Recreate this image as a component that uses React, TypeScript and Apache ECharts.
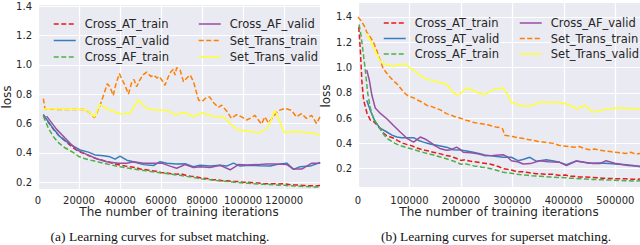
import React, { useEffect, useRef } from "react";
import * as echarts from "echarts";

// ---------- Data: (a) subset matching ----------
const subsetCrossATTrain: number[][] = [
  [2600, 0.66], [5000, 0.61], [7500, 0.56], [10000, 0.52], [12500, 0.49], [15000, 0.46], [17500, 0.43],
  [20000, 0.41], [22500, 0.395], [25000, 0.38], [27500, 0.365], [30000, 0.355], [32500, 0.345],
  [35000, 0.335], [37500, 0.325], [40000, 0.318], [42500, 0.31], [45000, 0.305], [47500, 0.3],
  [50000, 0.29], [52500, 0.285], [55000, 0.28], [57500, 0.275], [60000, 0.266], [62500, 0.264],
  [65000, 0.258], [67500, 0.255], [70000, 0.256], [72500, 0.245], [75000, 0.24], [77500, 0.236],
  [80000, 0.227], [82500, 0.226], [85000, 0.217], [87500, 0.216], [90000, 0.21], [92500, 0.21],
  [95000, 0.205], [97500, 0.205], [100000, 0.2], [102500, 0.2], [105000, 0.196], [107500, 0.195],
  [110000, 0.192], [112500, 0.19], [115000, 0.19], [117500, 0.188], [120000, 0.19], [122500, 0.184],
  [125000, 0.182], [127500, 0.18], [130000, 0.178], [132500, 0.176], [135000, 0.175], [137500, 0.177],
];
const subsetCrossATValid: number[][] = [
  [2600, 0.66], [6700, 0.58], [10700, 0.51], [15600, 0.46], [20500, 0.42], [24600, 0.405],
  [27800, 0.386], [31900, 0.38], [35100, 0.373], [37600, 0.357], [40000, 0.378], [43300, 0.35],
  [46500, 0.34], [51400, 0.32], [56300, 0.314], [59500, 0.34], [62800, 0.33], [67600, 0.325],
  [71700, 0.326], [75800, 0.306], [79000, 0.315], [83900, 0.31], [88800, 0.315], [92000, 0.31],
  [95300, 0.33], [98500, 0.31], [103400, 0.315], [108300, 0.312], [113200, 0.31], [118000, 0.325],
  [121300, 0.33], [124600, 0.288], [127800, 0.306], [132700, 0.31], [137600, 0.335],
];
const subsetCrossAFTrain: number[][] = [
  [2600, 0.65], [5000, 0.57], [7500, 0.51], [10000, 0.47], [12500, 0.44], [15000, 0.42], [17500, 0.4],
  [20000, 0.375], [22500, 0.362], [25000, 0.352], [27500, 0.345], [30000, 0.336], [32500, 0.328],
  [35000, 0.32], [37500, 0.313], [40000, 0.305], [42500, 0.3], [45000, 0.293], [47500, 0.288],
  [50000, 0.283], [52500, 0.279], [55000, 0.273], [57500, 0.268], [60000, 0.263], [62500, 0.259],
  [65000, 0.254], [67500, 0.25], [70000, 0.246], [72500, 0.24], [75000, 0.235], [77500, 0.228],
  [80000, 0.222], [82500, 0.219], [85000, 0.215], [87500, 0.211], [90000, 0.208], [92500, 0.205],
  [95000, 0.201], [97500, 0.198], [100000, 0.195], [102500, 0.193], [105000, 0.19], [107500, 0.188],
  [110000, 0.186], [112500, 0.184], [115000, 0.182], [117500, 0.18], [120000, 0.18], [122500, 0.176],
  [125000, 0.175], [127500, 0.173], [130000, 0.171], [132500, 0.169], [135000, 0.167], [137500, 0.168],
];
const subsetCrossAFValid: number[][] = [
  [4200, 0.65], [9100, 0.56], [14000, 0.49], [18900, 0.42], [23700, 0.39], [28600, 0.36],
  [33500, 0.34], [39200, 0.33], [43300, 0.33], [46500, 0.34], [51400, 0.33], [56300, 0.33],
  [60300, 0.33], [64400, 0.31], [67600, 0.295], [71700, 0.32], [75800, 0.3], [79000, 0.305],
  [83900, 0.3], [88800, 0.315], [93700, 0.285], [97700, 0.32], [101800, 0.318], [106700, 0.32],
  [111500, 0.325], [116400, 0.325], [121300, 0.32], [124600, 0.29], [128600, 0.29], [133500, 0.33],
  [137600, 0.33],
];
const subsetSetTransTrain: number[][] = [
  [2600, 0.77], [3400, 0.7], [10700, 0.695], [22100, 0.695], [24600, 0.68], [27500, 0.64],
  [30200, 0.72], [33800, 0.87], [35100, 0.85], [36700, 0.79], [38000, 0.87], [39700, 0.94],
  [40300, 0.92], [42400, 0.86], [44100, 0.8], [45700, 0.88], [46800, 0.9], [48100, 0.85],
  [49400, 0.89], [51100, 0.93], [53000, 0.95], [55000, 0.92], [56600, 0.93], [57900, 0.91],
  [59200, 0.92], [61100, 0.88], [61900, 0.86], [63600, 0.92], [64700, 0.95], [66000, 0.97],
  [66800, 0.93], [67600, 0.98], [69300, 0.964], [70900, 0.885], [72600, 0.91], [74200, 0.93],
  [75800, 0.885], [78300, 0.76], [79900, 0.75], [82400, 0.78], [83800, 0.78], [85400, 0.745],
  [87900, 0.71], [89500, 0.725], [91900, 0.687], [94300, 0.635], [96800, 0.66], [99300, 0.645],
  [101700, 0.624], [104100, 0.64], [105700, 0.656], [109000, 0.596], [110600, 0.645], [112300, 0.605],
  [114700, 0.645], [117100, 0.687], [120300, 0.703], [123600, 0.69], [126000, 0.645], [128500, 0.668],
  [130900, 0.635], [133400, 0.656], [135800, 0.6], [137500, 0.645],
];
const subsetSetTransValid: number[][] = [
  [2600, 0.7], [22100, 0.695], [23700, 0.69], [27500, 0.645], [30200, 0.73], [33500, 0.7],
  [40000, 0.665], [44900, 0.67], [48900, 0.76], [53000, 0.7], [59500, 0.69], [62800, 0.69],
  [66800, 0.66], [71700, 0.675], [75800, 0.646], [79900, 0.673], [85400, 0.65], [90300, 0.646],
  [93700, 0.6], [97700, 0.555], [103400, 0.545], [108300, 0.537], [112300, 0.578], [115600, 0.69],
  [120000, 0.54], [126200, 0.545], [134300, 0.533], [137500, 0.52],
];

// ---------- Data: (b) superset matching ----------
const supersetCrossATTrain: number[][] = [
  [1500, 1.32], [4500, 1.14], [7700, 0.88], [11000, 0.74], [17400, 0.64], [23900, 0.585],
  [29700, 0.575], [36000, 0.55], [43000, 0.515], [50000, 0.48], [56000, 0.46], [63000, 0.45],
  [70000, 0.44], [78000, 0.42], [88000, 0.4], [96000, 0.39], [105000, 0.38], [113000, 0.365],
  [121000, 0.355], [130000, 0.345], [138000, 0.34], [146000, 0.33], [153000, 0.325], [162000, 0.315],
  [170000, 0.305], [178000, 0.3], [185000, 0.29], [192000, 0.28], [200000, 0.265], [208000, 0.27],
  [217000, 0.26], [225000, 0.255], [233000, 0.25], [241000, 0.245], [250000, 0.24], [258000, 0.235],
  [266000, 0.225], [274000, 0.215], [282000, 0.2], [290000, 0.195], [298000, 0.19], [306000, 0.18],
  [314000, 0.175], [322000, 0.175], [330000, 0.17], [338000, 0.165], [346000, 0.16], [355000, 0.16],
  [363000, 0.155], [371000, 0.155], [379000, 0.155], [387000, 0.15], [395000, 0.145], [403000, 0.15],
  [411000, 0.14], [420000, 0.14], [430000, 0.135], [443000, 0.135], [455000, 0.13], [467000, 0.128],
  [475000, 0.125], [490000, 0.122], [508000, 0.12], [520000, 0.12], [532000, 0.117], [540000, 0.115],
  [548000, 0.118],
];
const supersetCrossATValid: number[][] = [
  [17000, 0.74], [25000, 0.65], [33500, 0.57], [43000, 0.52], [56000, 0.49], [66000, 0.465],
  [75500, 0.45], [85000, 0.445], [95000, 0.445], [108000, 0.445], [117000, 0.425], [127000, 0.41],
  [140000, 0.395], [153000, 0.385], [172000, 0.37], [185000, 0.35], [198000, 0.348], [211000, 0.34],
  [224000, 0.33], [235000, 0.32], [246000, 0.309], [262000, 0.3], [282000, 0.29], [298000, 0.29],
  [311000, 0.263], [322000, 0.275], [334000, 0.29], [347000, 0.258], [366000, 0.27], [380000, 0.26],
  [392000, 0.25], [405000, 0.232], [424000, 0.26], [450000, 0.242], [470000, 0.245], [489000, 0.24],
  [505000, 0.235], [521000, 0.23], [535000, 0.225], [548000, 0.216],
];
const supersetCrossAFTrain: number[][] = [
  [2000, 1.34], [6000, 1.25], [10000, 1.12], [13600, 1.0], [18800, 0.8], [24000, 0.68],
  [29700, 0.6], [36000, 0.56], [42700, 0.52], [50000, 0.47], [56000, 0.44], [64000, 0.42],
  [72000, 0.4], [80000, 0.385], [88000, 0.375], [96000, 0.365], [105000, 0.355], [113000, 0.345],
  [121000, 0.335], [130000, 0.325], [138000, 0.315], [146000, 0.31], [153000, 0.3], [162000, 0.29],
  [170000, 0.28], [178000, 0.27], [185000, 0.26], [192000, 0.25], [200000, 0.235], [208000, 0.24],
  [217000, 0.23], [225000, 0.222], [233000, 0.218], [241000, 0.212], [250000, 0.207], [258000, 0.2],
  [266000, 0.192], [274000, 0.182], [282000, 0.172], [290000, 0.168], [298000, 0.163], [306000, 0.158],
  [314000, 0.153], [322000, 0.15], [330000, 0.147], [338000, 0.144], [346000, 0.142], [355000, 0.14],
  [363000, 0.138], [371000, 0.135], [379000, 0.133], [392000, 0.13], [403000, 0.128], [411000, 0.125],
  [420000, 0.125], [430000, 0.12], [443000, 0.118], [455000, 0.115], [467000, 0.113], [475000, 0.112],
  [490000, 0.11], [508000, 0.107], [520000, 0.105], [532000, 0.103], [540000, 0.102], [548000, 0.105],
];
const supersetCrossAFValid: number[][] = [
  [17000, 0.98], [22000, 0.9], [27000, 0.78], [33500, 0.68], [44000, 0.635], [56000, 0.595],
  [68000, 0.545], [82000, 0.49], [95000, 0.44], [108000, 0.41], [121000, 0.45], [130000, 0.435],
  [140000, 0.41], [150000, 0.38], [159000, 0.36], [172000, 0.345], [181000, 0.35], [191600, 0.37],
  [198000, 0.355], [204500, 0.33], [220000, 0.325], [235000, 0.315], [246000, 0.303], [262000, 0.305],
  [282000, 0.31], [290000, 0.295], [298000, 0.263], [310000, 0.255], [321000, 0.237], [335000, 0.24],
  [353000, 0.263], [370000, 0.255], [392000, 0.25], [405000, 0.224], [424000, 0.26], [440000, 0.25],
  [457000, 0.24], [470000, 0.24], [482000, 0.263], [502000, 0.24], [525000, 0.225], [548000, 0.22],
];
const supersetSetTransTrain: number[][] = [
  [0, 1.4], [6000, 1.37], [12000, 1.33], [17000, 1.28], [24000, 1.24], [30000, 1.2], [36000, 1.14],
  [42000, 1.07], [49000, 0.99], [56000, 0.955], [62000, 0.925], [70000, 0.89], [76000, 0.87],
  [82000, 0.84], [90000, 0.8], [96000, 0.78], [101000, 0.77], [108000, 0.76], [114000, 0.745],
  [120000, 0.735], [127000, 0.72], [134000, 0.7], [141000, 0.695], [147000, 0.685], [153000, 0.675],
  [160000, 0.665], [166000, 0.65], [172000, 0.635], [180000, 0.625], [186000, 0.615], [192000, 0.605],
  [198000, 0.6], [205000, 0.59], [212000, 0.58], [218000, 0.575], [225000, 0.565], [232000, 0.56],
  [240000, 0.555], [247000, 0.55], [254000, 0.545], [262000, 0.535], [268000, 0.53], [275000, 0.525],
  [281000, 0.515], [285000, 0.465], [292000, 0.46], [300000, 0.455], [310000, 0.445], [320000, 0.44],
  [330000, 0.43], [340000, 0.425], [350000, 0.415], [360000, 0.41], [370000, 0.405], [380000, 0.4],
  [390000, 0.385], [400000, 0.38], [410000, 0.375], [420000, 0.37], [430000, 0.375], [440000, 0.36],
  [450000, 0.35], [460000, 0.355], [470000, 0.345], [480000, 0.34], [490000, 0.335], [500000, 0.33],
  [510000, 0.325], [520000, 0.32], [530000, 0.33], [540000, 0.315], [548000, 0.32],
];
const supersetSetTransValid: number[][] = [
  [16900, 1.27], [30000, 1.16], [42000, 1.06], [49000, 1.03], [58000, 1.02], [68000, 1.01],
  [80000, 1.02], [90000, 1.03], [100000, 1.0], [114000, 0.96], [127000, 0.92], [140000, 0.9],
  [155000, 0.885], [172000, 0.87], [185000, 0.8], [192000, 0.785], [198000, 0.79], [211000, 0.84],
  [228000, 0.81], [246000, 0.785], [263000, 0.825], [282000, 0.84], [290000, 0.79], [298000, 0.726],
  [310000, 0.71], [321000, 0.695], [334000, 0.695], [353000, 0.726], [372000, 0.725], [392000, 0.724],
  [408000, 0.708], [424700, 0.674], [440800, 0.7], [457000, 0.647], [476000, 0.666], [502000, 0.68],
  [528000, 0.675], [548000, 0.67],
];

// ---------- Ticks / labels ----------
const subsetXTicks = [0, 20000, 40000, 60000, 80000, 100000, 120000];
const supersetXTicks = [0, 100000, 200000, 300000, 400000, 500000];
const yTicks = [0.2, 0.4, 0.6, 0.8, 1.0, 1.2, 1.4];
const seriesNames = [
  "Cross_AT_train", "Cross_AT_valid", "Cross_AF_train",
  "Cross_AF_valid", "Set_Trans_train", "Set_Trans_valid",
];
const seriesColors = ["#e41a1c", "#377eb8", "#4daf4a", "#984ea3", "#ff7f00", "#ffff33"];
const seriesDashed = [true, false, true, false, true, false];
const xTitle = "The number of training iterations";
const yTitle = "loss";
const captionA = "(a) Learning curves for subset matching.";
const captionB = "(b) Learning curves for superset matching.";

const subsetData = [
  subsetCrossATTrain, subsetCrossATValid, subsetCrossAFTrain,
  subsetCrossAFValid, subsetSetTransTrain, subsetSetTransValid,
];
const supersetData = [
  supersetCrossATTrain, supersetCrossATValid, supersetCrossAFTrain,
  supersetCrossAFValid, supersetSetTransTrain, supersetSetTransValid,
];

const TXT = "#262626";
const FONT = "DejaVu Sans";

export default function App() {
  const ref = useRef<HTMLDivElement>(null);
  useEffect(() => {
    if (!ref.current) return;
    const chart = echarts.init(ref.current, null, { renderer: "svg" });

    const xAxisCommon = (ticks: number[], max: number, margin: number) => ({
      type: "value",
      min: 0,
      max,
      axisLine: { show: false },
      axisTick: { show: false, customValues: ticks },
      axisLabel: {
        customValues: ticks, color: TXT, fontSize: 10, fontFamily: FONT, margin,
        formatter: (v: number) => String(Math.round(v)),
      },
      splitLine: { show: true, lineStyle: { color: "#ffffff", width: 1.2 } },
    });
    const yAxisCommon = (min: number, max: number) => ({
      type: "value",
      min,
      max,
      axisLine: { show: false },
      axisTick: { show: false, customValues: yTicks },
      axisLabel: {
        customValues: yTicks, color: TXT, fontSize: 10, fontFamily: FONT, margin: 6,
        formatter: (v: number) => v.toFixed(1),
      },
      splitLine: { show: true, lineStyle: { color: "#ffffff", width: 1.2 } },
    });

    const makeSeries = (data: number[][][], axisIndex: number) =>
      data.map((d, i) => ({
        name: seriesNames[i],
        type: "line",
        xAxisIndex: axisIndex,
        yAxisIndex: axisIndex,
        data: d,
        symbol: "none",
        showSymbol: false,
        color: seriesColors[i],
        lineStyle: { color: seriesColors[i], width: 1.5, type: seriesDashed[i] ? [5, 2.5] : "solid" },
        z: 2 + i,
      }));

    const legendCommon = {
      orient: "vertical",
      itemWidth: 22,
      itemHeight: 12,
      padding: 0,
      selectedMode: false,
      itemStyle: { opacity: 0 },
      lineStyle: { width: 1.5 },
      textStyle: { fontSize: 11.5, color: TXT, fontFamily: FONT, padding: [0, 0, 0, 4] },
    };

    chart.setOption({
      animation: false,
      grid: [
        { left: 38, right: 320, top: 5, bottom: 56, show: true, backgroundColor: "#EAEAF2", borderWidth: 0 },
        { left: 358, right: 0, top: 3, bottom: 58, show: true, backgroundColor: "#EAEAF2", borderWidth: 0 },
      ],
      xAxis: [
        { gridIndex: 0, ...xAxisCommon(subsetXTicks, 137500, 6) },
        { gridIndex: 1, ...xAxisCommon(supersetXTicks, 548000, 8) },
      ],
      yAxis: [
        { gridIndex: 0, ...yAxisCommon(0.154, 1.407) },
        { gridIndex: 1, ...yAxisCommon(0.055, 1.51) },
      ],
      legend: [
        { ...legendCommon, left: 53, top: 18, itemGap: 4.5, data: seriesNames.slice(0, 3) },
        { ...legendCommon, left: 198, top: 18, itemGap: 4.5, data: seriesNames.slice(3) },
        { ...legendCommon, left: 383, top: 17, itemGap: 3.5, data: seriesNames.slice(0, 3) },
        { ...legendCommon, left: 519, top: 17, itemGap: 3.5, data: seriesNames.slice(3) },
      ],
      graphic: [
        { type: "text", x: 179, y: 212, style: { text: xTitle, fill: TXT, font: `12px '${FONT}'`, align: "center", verticalAlign: "middle" } },
        { type: "text", x: 499, y: 212, style: { text: xTitle, fill: TXT, font: `12px '${FONT}'`, align: "center", verticalAlign: "middle" } },
        { type: "text", x: 7, y: 97, rotation: Math.PI / 2, style: { text: yTitle, fill: TXT, font: `12px '${FONT}'`, align: "center", verticalAlign: "middle" } },
        { type: "text", x: 326, y: 96, rotation: Math.PI / 2, style: { text: yTitle, fill: TXT, font: `12px '${FONT}'`, align: "center", verticalAlign: "middle" } },
        { type: "text", x: 160, y: 236, style: { text: captionA, fill: "#111", font: "13.5px 'Liberation Serif'", align: "center", verticalAlign: "middle" } },
        { type: "text", x: 496, y: 236, style: { text: captionB, fill: "#111", font: "13.5px 'Liberation Serif'", align: "center", verticalAlign: "middle" } },
      ],
      series: [...makeSeries(subsetData, 0), ...makeSeries(supersetData, 1)],
    });
    return () => chart.dispose();
  }, []);
  return (
    <div
      ref={ref}
      style={{ position: "fixed", left: 0, top: 0, width: 640, height: 245, background: "#ffffff" }}
    />
  );
}
